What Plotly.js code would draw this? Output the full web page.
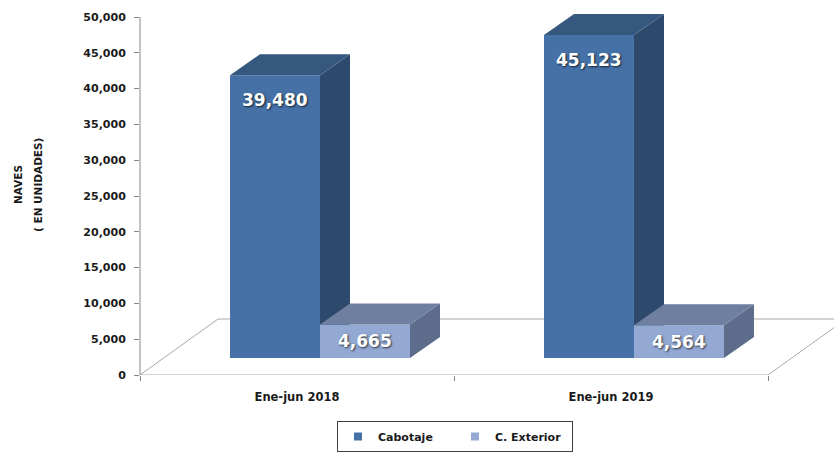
<!DOCTYPE html>
<html>
<head>
<meta charset="utf-8">
<script src="https://cdn.plot.ly/plotly-3.0.1.min.js"></script>
<style>html,body{margin:0;padding:0;background:#fff;}#chart{width:834px;height:452px;}</style>
</head>
<body>
<div id="chart"></div>
<script>
// ---- data ----
const categories = ['Ene-jun 2018', 'Ene-jun 2019'];
const seriesNames = ['Cabotaje', 'C. Exterior'];
const cabotaje = [39480, 45123];
const exterior = [4665, 4564];
const yTickValues = [0, 5000, 10000, 15000, 20000, 25000, 30000, 35000, 40000, 45000, 50000];
const yTitleLines = ['NAVES', '( EN UNIDADES)'];

// ---- styling / geometry (not data) ----
const PX_PER_UNIT = 358 / 50000;
const Y_MAX = 370 / PX_PER_UNIT;
const LIFT = 17 / PX_PER_UNIT;          // bars sit back on the floor
const SLOT_PX = 314;
const BAR_W = 90 / SLOT_PX;
const OFFS = [-67 / SLOT_PX, 23 / SLOT_PX];
const DX = 30 / SLOT_PX, DY = 21 / PX_PER_UNIT;
const FLOOR_DX = 78 / SLOT_PX, FLOOR_DY = 56 / PX_PER_UNIT;
const X_RANGE = [-0.5, -0.5 + 694 / SLOT_PX];
const colors = [
  {front: '#4571a6', top: '#36587f', side: '#2d4a6d', legend: '#4571a6'},
  {front: '#93a9d3', top: '#6f7f9f', side: '#5c6c8a', legend: '#95a9d4'}
];
const FONT = 'DejaVu Sans, Verdana, sans-serif';

const series = [cabotaje, exterior];
const yrefs = ['y2', 'y3'];
const traces = [];
const annotations = [];

// floor
const nC = categories.length;
traces.push({
  type: 'scatter', mode: 'lines', xaxis: 'x', yaxis: 'y',
  x: [-0.5, nC - 0.5, nC - 0.5 + FLOOR_DX, -0.5 + FLOOR_DX, -0.5],
  y: [0, 0, FLOOR_DY, FLOOR_DY, 0],
  line: {color: '#a8a8a8', width: 1}, hoverinfo: 'skip', showlegend: false
});

series.forEach((vals, s) => {
  const yax = yrefs[s];
  traces.push({
    type: 'bar', xaxis: 'x', yaxis: yax,
    x: categories.map((c, i) => i), y: vals,
    width: BAR_W, offset: OFFS[s],
    marker: {color: colors[s].front, line: {width: 0}},
    name: seriesNames[s], showlegend: false, hoverinfo: 'skip'
  });
  vals.forEach((v, i) => {
    const x0 = i + OFFS[s], x1 = x0 + BAR_W;
    // side face
    traces.push({
      type: 'scatter', mode: 'lines', xaxis: 'x', yaxis: yax, fill: 'toself',
      x: [x1, x1, x1 + DX, x1 + DX, x1], y: [0, v, v + DY, DY, 0],
      fillcolor: colors[s].side, line: {width: 0, color: colors[s].side},
      hoverinfo: 'skip', showlegend: false
    });
    // top face
    traces.push({
      type: 'scatter', mode: 'lines', xaxis: 'x', yaxis: yax, fill: 'toself',
      x: [x0, x1, x1 + DX, x0 + DX, x0], y: [v, v, v + DY, v + DY, v],
      fillcolor: colors[s].top, line: {width: 0, color: colors[s].top},
      hoverinfo: 'skip', showlegend: false
    });
    annotations.push({
      xref: 'x', yref: yax, x: (x0 + x1) / 2,
      y: s === 0 ? v : v / 2, yshift: s === 0 ? -25 : 0,
      text: v.toLocaleString('en-US'), showarrow: false,
      xanchor: 'center', yanchor: 'middle',
      font: {family: FONT, size: 17, color: '#ffffff', weight: 'bold', shadow: '1px 1px 2px rgba(0,0,0,0.7)'}
    });
  });
});

// legend entries
series.forEach((vals, s) => {
  traces.push({
    type: 'scatter', mode: 'markers', x: [null], y: [null], xaxis: 'x', yaxis: 'y',
    name: seriesNames[s], marker: {symbol: 'square', size: 8, color: colors[s].legend},
    hoverinfo: 'skip'
  });
});

// y-axis title (two lines)
[18, 38].forEach((px, k) => {
  annotations.push({
    xref: 'paper', yref: 'paper', x: (px - 140) / 694, y: (375 - 185) / 370,
    text: yTitleLines[k], showarrow: false, textangle: -90,
    xanchor: 'center', yanchor: 'middle',
    font: {family: FONT, size: 10.5, color: '#1a1a1a', weight: 'bold'}
  });
});

const layout = {
  width: 834, height: 452,
  margin: {l: 140, r: 0, t: 5, b: 77, pad: 0},
  paper_bgcolor: '#ffffff', plot_bgcolor: 'rgba(0,0,0,0)',
  showlegend: true,
  xaxis: {
    range: X_RANGE, showgrid: false, zeroline: false, showline: false,
    tickvals: categories.map((c, i) => i), ticktext: categories, ticks: '',
    tickfont: {family: FONT, size: 11.5, color: '#1a1a1a', weight: 'bold'},
    ticklabelstandoff: 13,
    minor: {tickvals: [-0.5, 0.5, 1.5], ticks: 'outside', ticklen: 5, tickcolor: '#868686', showgrid: false},
    fixedrange: true
  },
  yaxis: {
    range: [0, Y_MAX], tickvals: yTickValues, tickformat: ',d',
    ticks: 'outside', ticklen: 5, tickcolor: '#868686',
    ticklabelstandoff: 6,
    showgrid: false, zeroline: false, showline: false,
    tickfont: {family: FONT, size: 11, color: '#1a1a1a', weight: 'bold'},
    fixedrange: true
  },
  yaxis2: {overlaying: 'y', range: [-LIFT, Y_MAX - LIFT], visible: false, fixedrange: true},
  yaxis3: {overlaying: 'y', range: [-LIFT, Y_MAX - LIFT], visible: false, fixedrange: true},
  legend: {
    orientation: 'h', x: (455 - 140) / 694, xanchor: 'center',
    y: (375 - 421) / 370, yanchor: 'top',
    bordercolor: '#404040', borderwidth: 1,
    font: {family: FONT, size: 11, color: '#1a1a1a', weight: 'bold'},
    itemwidth: 30, entrywidth: 72
  },
  shapes: [{type: 'line', xref: 'paper', yref: 'y', x0: 0, x1: 0, y0: 0, y1: yTickValues[yTickValues.length - 1],
            line: {color: '#868686', width: 1}}],
  annotations: annotations
};

Plotly.newPlot('chart', traces, layout, {displayModeBar: false, staticPlot: true});
</script>
</body>
</html>
